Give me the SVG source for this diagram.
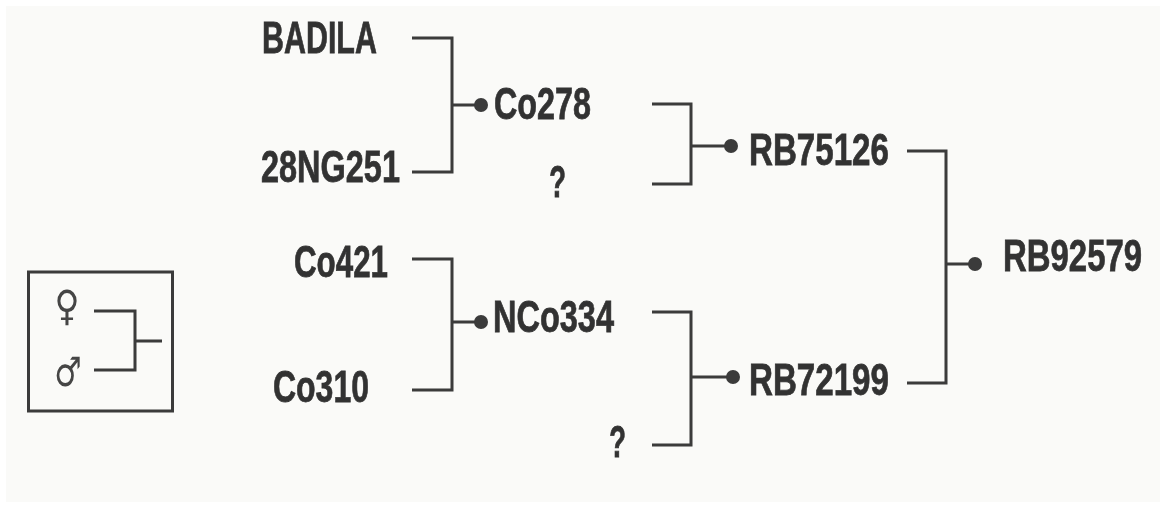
<svg xmlns="http://www.w3.org/2000/svg" width="1160" height="508" viewBox="0 0 1160 508">
<style>
.t{font-family:"Liberation Sans",Arial,sans-serif;font-weight:700;font-size:41px;fill:#333;stroke:#333;stroke-width:.7}
.s{font-family:"DejaVu Sans",sans-serif;fill:#444}
.c{fill:none;stroke:#3a3a3a;stroke-width:3}
.d{fill:#3a3a3a}
</style>
<defs><filter id="b" x="-2%" y="-2%" width="104%" height="104%"><feGaussianBlur stdDeviation="0.6"/></filter></defs>
<rect width="1160" height="508" fill="#fff"/>
<rect x="6" y="6" width="1154" height="496" fill="#fafaf8"/>
<g filter="url(#b)">
<g id="connectors" class="c">
<path d="M412 38H452V172H412M452 105H481"/>
<path d="M652 104H691V184H652M691 146H731"/>
<path d="M907 151H946V383H907M946 264H975"/>
<path d="M412 259H452V390H412M452 322H481"/>
<path d="M652 312H691V445H652M691 377H733"/>
</g>
<g id="n-badila"><text class="t" transform="translate(262 53) scale(.742 1.08)">BADILA</text></g>
<g id="n-28ng251"><text class="t" transform="translate(261 182) scale(.792 1.08)">28NG251</text></g>
<g id="n-co278"><circle class="d" cx="481" cy="105" r="7"/><text class="t" transform="translate(494 119) scale(.788 1.08)">Co278</text></g>
<g id="n-q1"><text class="t" transform="translate(549 197) scale(.68 1.08)">?</text></g>
<g id="n-rb75126"><circle class="d" cx="731" cy="146" r="7"/><text class="t" transform="translate(749 165) scale(.808 1.08)">RB75126</text></g>
<g id="n-co421"><text class="t" transform="translate(294 277) scale(.764 1.08)">Co421</text></g>
<g id="n-co310"><text class="t" transform="translate(273 402) scale(.78 1.08)">Co310</text></g>
<g id="n-nco334"><circle class="d" cx="481" cy="322" r="7"/><text class="t" transform="translate(493 332) scale(.793 1.08)">NCo334</text></g>
<g id="n-q2"><text class="t" transform="translate(609 457) scale(.68 1.08)">?</text></g>
<g id="n-rb72199"><circle class="d" cx="733" cy="377" r="7"/><text class="t" transform="translate(749 395) scale(.808 1.08)">RB72199</text></g>
<g id="n-rb92579"><circle class="d" cx="975" cy="264" r="7"/><text class="t" transform="translate(1003 271) scale(.803 1.08)">RB92579</text></g>
<g id="legend">
<rect x="28.500" y="272" width="144" height="139" class="c"/>
<path class="c" d="M94 311H135V370H94M135 341H162"/>
<text class="s" text-anchor="middle" font-size="38" transform="translate(67 320) scale(.9 1.1)">♀</text>
<text class="s" text-anchor="middle" font-size="34" transform="translate(68 386) scale(.9 1.2)">♂</text>
</g>
</g>
</svg>
